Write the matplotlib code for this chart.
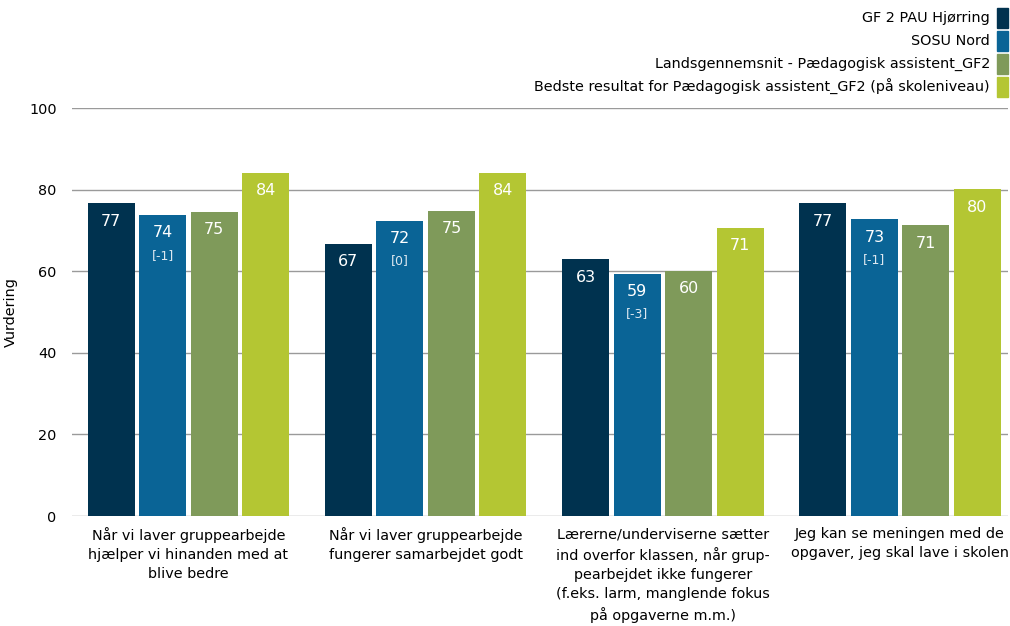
import numpy as np
import matplotlib
matplotlib.use('Agg')
import matplotlib.pyplot as plt
from matplotlib.patches import Rectangle

plt.rcParams['font.family'] = ['DejaVu Sans']

categories = [
    'Når vi laver gruppearbejde\nhjælper vi hinanden med at\nblive bedre',
    'Når vi laver gruppearbejde\nfungerer samarbejdet godt',
    'Lærerne/underviserne sætter\nind overfor klassen, når grup-\npearbejdet ikke fungerer\n(f.eks. larm, manglende fokus\npå opgaverne m.m.)',
    'Jeg kan se meningen med de\nopgaver, jeg skal lave i skolen',
]
series_names = [
    'GF 2 PAU Hjørring',
    'SOSU Nord',
    'Landsgennemsnit - Pædagogisk assistent_GF2',
    'Bedste resultat for Pædagogisk assistent_GF2 (på skoleniveau)',
]
hjorring = [76.7, 66.7, 63.0, 76.7]
sosu_nord = [73.8, 72.4, 59.4, 72.8]
landsgns = [74.6, 74.8, 60.1, 71.3]
bedste = [84.1, 84.1, 70.7, 80.1]
sosu_diff = ['[-1]', '[0]', '[-3]', '[-1]']

series = [hjorring, sosu_nord, landsgns, bedste]
colors = ['#00324f', '#0a6496', '#7f9a5a', '#b4c633']

fig = plt.figure(figsize=(10.10, 6.26), dpi=100)
ax = fig.add_axes([72 / 1010, 1 - 516 / 626, 936 / 1010, 408 / 626])

x = np.arange(len(categories))
width = 0.198
step = 0.217
for i, (vals, col) in enumerate(zip(series, colors)):
    pos = x + (i - 1.5) * step
    ax.bar(pos, vals, width=width, color=col, zorder=2)
    for j, (p, v) in enumerate(zip(pos, vals)):
        ax.annotate(f'{v:.0f}', (p, v), xytext=(0, -13), textcoords='offset points',
                    ha='center', va='center', color='white', fontsize=11.5, zorder=3)
        if i == 1:
            ax.annotate(sosu_diff[j], (p, v), xytext=(0, -29), textcoords='offset points',
                        ha='center', va='center', color='#dde8f0', fontsize=9, zorder=3)

ax.set_xlim(-0.491, 3.455)
ax.set_ylim(0, 100)
ax.set_yticks([0, 20, 40, 60, 80, 100])
ax.set_xticks(x)
ax.set_xticklabels(categories, fontsize=10.4, linespacing=1.45)
ax.tick_params(axis='both', length=0)
ax.tick_params(axis='x', pad=8, labelsize=10.4)
ax.tick_params(axis='y', pad=11, labelsize=10.4)
ax.set_ylabel('Vurdering', fontsize=10.4)
ax.yaxis.set_label_coords(-0.0577, 0.5)
ax.grid(axis='y', color='#9a9a9a', linewidth=1, zorder=0)
ax.set_axisbelow(True)
for s in ax.spines.values():
    s.set_visible(False)

# legend in the top right, text right aligned with swatch to the right
ys = [18, 41, 64, 87]
for name, col, yy in zip(series_names, colors, ys):
    fig.text(990 / 1010, 1 - yy / 626, name, ha='right', va='center', fontsize=10.4)
    fig.patches.append(Rectangle((997 / 1010, 1 - (yy + 10) / 626), 11 / 1010, 20 / 626,
                                 transform=fig.transFigure, color=col, figure=fig))

fig.savefig('out.png', dpi=100)
